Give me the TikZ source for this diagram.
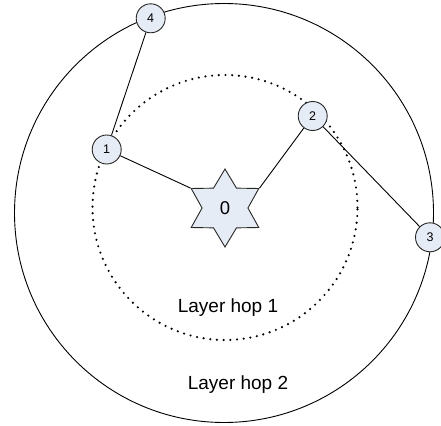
\documentclass[tikz,border=0pt]{standalone}
\usepackage{fontspec}
\setmainfont{Liberation Sans}
\usetikzlibrary{shapes.geometric}
\definecolor{nodefill}{HTML}{E6ECF6}
\tikzset{
  hopnode/.style={circle, draw=black!85, fill=nodefill, line width=0.9pt, minimum size=29pt, inner sep=0pt, font=\fontsize{12.5}{14}\selectfont},
  sinknode/.style={star, star points=6, star point ratio=1.70, draw=black!85, fill=nodefill, line width=0.9pt, minimum size=78pt, inner sep=0pt, font=\fontsize{18.5}{22}\selectfont},
  link/.style={line width=0.9pt, black},
  outerring/.style={line width=0.9pt, black},
  innerring/.style={line width=2.4pt, line cap=round, dash pattern=on 0pt off 6.7pt},
  layerlabel/.style={font=\fontsize{19}{23}\selectfont, inner sep=0pt}
}
\begin{document}
\begin{tikzpicture}[x=1pt,y=-1pt]
\useasboundingbox (0,0) rectangle (441,425);
\fill[white] (0,0) rectangle (441,425);
\draw[outerring] (224,213) circle[radius=209.5pt];
\draw[innerring] (225,207.5) circle[radius=132.5pt];
\node[sinknode] (n0) at (225,208) {0};
\node[hopnode] (n1) at (106.7,149.5) {1};
\node[hopnode] (n2) at (312.7,116) {2};
\node[hopnode] (n3) at (430,237.3) {3};
\node[hopnode] (n4) at (150.7,18.3) {4};
\draw[link] (n1) -- (n4);
\draw[link] (n1) -- (n0.outer point 2);
\draw[link] (n0.outer point 6) -- (n2);
\draw[link] (n2) -- (n3);
\node[layerlabel] (l1) at (228,308) {Layer hop 1};
\node[layerlabel] (l2) at (238,385) {Layer hop 2};
\end{tikzpicture}
\end{document}
